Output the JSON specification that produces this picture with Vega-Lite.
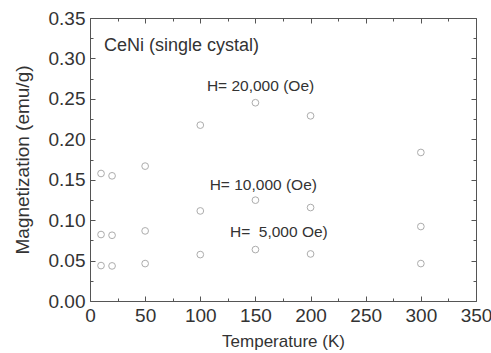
{
  "$schema": "https://vega.github.io/schema/vega-lite/v6.json",
  "width": 386,
  "height": 283,
  "autosize": {"type": "none"},
  "padding": {"left": 90, "top": 18, "right": 15, "bottom": 52},
  "background": "white",
  "config": {
    "view": {"stroke": "#555555", "strokeWidth": 1},
    "font": "Liberation Sans",
    "axis": {"grid": false, "domain": false, "tickColor": "#555555", "labelColor": "#333333", "titleColor": "#333333", "labelFont": "Liberation Sans", "titleFont": "Liberation Sans", "titleFontWeight": "normal", "labelFontSize": 19, "titleFontSize": 17}
  },
  "datasets": {
    "pts": [
      {"T": 10, "M": 0.1577, "H": "20000"},
      {"T": 20, "M": 0.1548, "H": "20000"},
      {"T": 50, "M": 0.1668, "H": "20000"},
      {"T": 100, "M": 0.2175, "H": "20000"},
      {"T": 150, "M": 0.2452, "H": "20000"},
      {"T": 200, "M": 0.229, "H": "20000"},
      {"T": 300, "M": 0.1837, "H": "20000"},
      {"T": 10, "M": 0.0822, "H": "10000"},
      {"T": 20, "M": 0.0813, "H": "10000"},
      {"T": 50, "M": 0.0867, "H": "10000"},
      {"T": 100, "M": 0.1114, "H": "10000"},
      {"T": 150, "M": 0.1247, "H": "10000"},
      {"T": 200, "M": 0.1156, "H": "10000"},
      {"T": 300, "M": 0.0921, "H": "10000"},
      {"T": 10, "M": 0.0438, "H": "5000"},
      {"T": 20, "M": 0.0434, "H": "5000"},
      {"T": 50, "M": 0.0463, "H": "5000"},
      {"T": 100, "M": 0.0574, "H": "5000"},
      {"T": 150, "M": 0.0636, "H": "5000"},
      {"T": 200, "M": 0.0582, "H": "5000"},
      {"T": 300, "M": 0.0463, "H": "5000"}
    ],
    "title": [
      {"T": 12.7, "M": 0.3157, "label": "CeNi (single cystal)"}
    ],
    "hlabels": [
      {"T": 106, "M": 0.266, "label": "H= 20,000 (Oe)"},
      {"T": 108.5, "M": 0.1432, "label": "H= 10,000 (Oe)"},
      {"T": 126.9, "M": 0.0854, "label": "H=\u00a0 5,000 Oe)"}
    ]
  },
  "resolve": {"axis": {"x": "independent", "y": "independent"}},
  "layer": [
    {
      "data": {"name": "pts"},
      "mark": {"type": "point", "shape": "circle", "filled": false, "stroke": "#8a8a8a", "strokeWidth": 1, "size": 45},
      "encoding": {
        "x": {"field": "T", "type": "quantitative", "scale": {"domain": [0, 350], "nice": false},
          "axis": {"orient": "bottom", "values": [0, 50, 100, 150, 200, 250, 300, 350], "ticks": false, "labelPadding": 5, "title": "Temperature (K)", "titlePadding": 8, "labelFlush": false}},
        "y": {"field": "M", "type": "quantitative", "scale": {"domain": [0, 0.35], "nice": false},
          "axis": {"orient": "left", "values": [0, 0.05, 0.1, 0.15, 0.2, 0.25, 0.3, 0.35], "format": ".2f", "ticks": false, "labelPadding": 5, "title": "Magnetization (emu/g)", "titleFontSize": 19, "titlePadding": 16, "labelFlush": false}}
      }
    },
    {
      "data": {"name": "title"},
      "mark": {"type": "text", "align": "left", "baseline": "middle", "fontSize": 18, "color": "#333333", "font": "Liberation Sans"},
      "encoding": {
        "x": {"field": "T", "type": "quantitative", "scale": {"domain": [0, 350], "nice": false},
          "axis": {"orient": "bottom", "values": [0, 50, 100, 150, 200, 250, 300, 350], "tickSize": -5, "labels": false, "title": null}},
        "y": {"field": "M", "type": "quantitative", "scale": {"domain": [0, 0.35], "nice": false},
          "axis": {"orient": "left", "values": [0, 0.05, 0.1, 0.15, 0.2, 0.25, 0.3, 0.35], "tickSize": -5, "labels": false, "title": null}},
        "text": {"field": "label"}
      }
    },
    {
      "data": {"name": "hlabels"},
      "mark": {"type": "text", "align": "left", "baseline": "middle", "fontSize": 15.5, "color": "#333333", "font": "Liberation Sans"},
      "encoding": {
        "x": {"field": "T", "type": "quantitative", "scale": {"domain": [0, 350], "nice": false},
          "axis": {"orient": "bottom", "values": [25, 75, 125, 175, 225, 275, 325], "tickSize": -3, "labels": false, "title": null}},
        "y": {"field": "M", "type": "quantitative", "scale": {"domain": [0, 0.35], "nice": false},
          "axis": {"orient": "left", "values": [0.025, 0.075, 0.125, 0.175, 0.225, 0.275, 0.325], "tickSize": -3, "labels": false, "title": null}},
        "text": {"field": "label"}
      }
    },
    {
      "data": {"name": "pts"},
      "mark": {"type": "point", "opacity": 0},
      "encoding": {
        "x": {"field": "T", "type": "quantitative", "scale": {"domain": [0, 350], "nice": false},
          "axis": {"orient": "top", "values": [0, 50, 100, 150, 200, 250, 300, 350], "tickSize": -5, "labels": false, "title": null}},
        "y": {"field": "M", "type": "quantitative", "scale": {"domain": [0, 0.35], "nice": false},
          "axis": {"orient": "right", "values": [0, 0.05, 0.1, 0.15, 0.2, 0.25, 0.3, 0.35], "tickSize": -5, "labels": false, "title": null}}
      }
    },
    {
      "data": {"name": "pts"},
      "mark": {"type": "point", "opacity": 0},
      "encoding": {
        "x": {"field": "T", "type": "quantitative", "scale": {"domain": [0, 350], "nice": false},
          "axis": {"orient": "top", "values": [25, 75, 125, 175, 225, 275, 325], "tickSize": -3, "labels": false, "title": null}},
        "y": {"field": "M", "type": "quantitative", "scale": {"domain": [0, 0.35], "nice": false},
          "axis": {"orient": "right", "values": [0.025, 0.075, 0.125, 0.175, 0.225, 0.275, 0.325], "tickSize": -3, "labels": false, "title": null}}
      }
    }
  ]
}
